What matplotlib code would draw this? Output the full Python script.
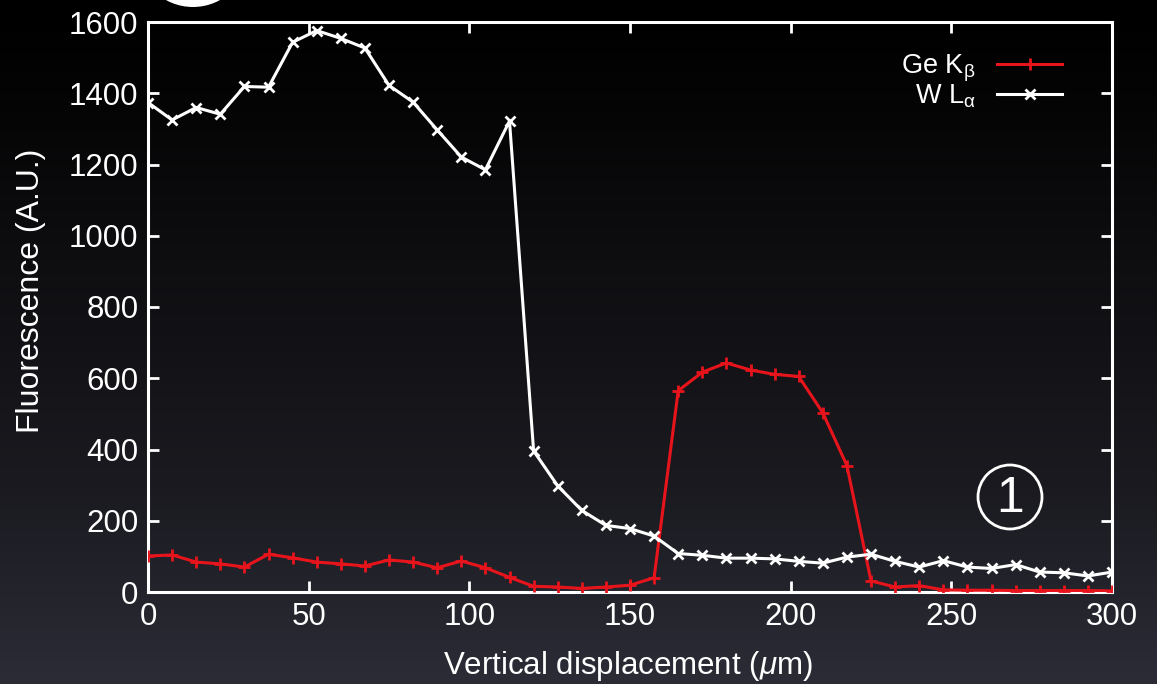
import numpy as np
import matplotlib
matplotlib.use("Agg")
import matplotlib.pyplot as plt
from matplotlib.patches import Ellipse
from matplotlib.colors import LinearSegmentedColormap

plt.rcParams["font.family"] = ["Liberation Sans", "DejaVu Sans"]
plt.rcParams["mathtext.fontset"] = "custom"
plt.rcParams["mathtext.rm"] = "Liberation Sans"
plt.rcParams["mathtext.it"] = "Liberation Sans:italic"

# vertical displacement (um), one scan point every 7.5 um
displacement = np.arange(0, 300.1, 7.5)

ge_kbeta = [101, 104, 84, 79, 70, 106, 96, 84, 79, 73,
            90, 84, 68, 87, 68, 41, 16, 14, 10, 14,
            19, 40, 565, 617, 643, 623, 611, 605, 503, 355,
            31, 14, 18, 6, 5, 5, 4, 4, 4, 4, 3]

w_lalpha = [1374, 1325, 1360, 1341, 1419, 1417, 1543, 1576, 1554, 1527,
            1422, 1375, 1297, 1221, 1185, 1322, 396, 298, 229, 187,
            178, 157, 108, 103, 95, 95, 93, 86, 81, 98,
            106, 86, 70, 88, 70, 66, 77, 56, 54, 45, 56]

fig = plt.figure(figsize=(11.57, 6.84), dpi=100)

# dark gradient backdrop
bg = fig.add_axes([0, 0, 1, 1], zorder=-10)
cmap = LinearSegmentedColormap.from_list(
    "bg", ["#000000", "#0f0f12", "#1a1a20", "#2c2c37"])
grad = np.linspace(0, 1, 256).reshape(-1, 1) ** 1.2
bg.imshow(grad, aspect="auto", cmap=cmap, extent=[0, 1, 0, 1], origin="upper")
bg.set_axis_off()

ax = fig.add_axes([148 / 1157, 92 / 684, 964 / 1157, 570 / 684])
ax.patch.set_alpha(0)

red = "#e8141c"
ax.plot(displacement, ge_kbeta, color=red, lw=2.2, marker="+", ms=9, mew=2,
        label=r"Ge K$_{\mathrm{β}}$", zorder=3)
ax.plot(displacement, w_lalpha, color="white", lw=2.2, marker="x", ms=7, mew=2,
        label=r"W L$_{\mathrm{α}}$", zorder=3)

ax.set_xlim(0, 300)
ax.set_ylim(0, 1600)
ax.set_xticks(np.arange(0, 301, 50))
ax.set_yticks(np.arange(0, 1601, 200))
for s in ax.spines.values():
    s.set_color("white")
    s.set_linewidth(2.2)
ax.tick_params(direction="in", length=8, width=2, colors="white",
               top=True, right=True, labelsize=22.5, pad=7)
ax.set_xlabel(r"Vertical displacement ($\mu$m)", color="white", fontsize=22.5)
ax.xaxis.set_label_coords(0.498, -0.1)
ax.set_ylabel("Fluorescence (A.U.)", color="white", fontsize=23)
ax.yaxis.set_label_coords(-0.106, 0.528)

leg = ax.legend(loc="upper right", frameon=False, markerfirst=False,
                fontsize=19.5, handlelength=2.4, labelspacing=-0.08,
                bbox_to_anchor=(0.968, 0.979), borderaxespad=0.3)
for t in leg.get_texts():
    t.set_color("white")

# circled annotation inside the plot
fig.add_artist(Ellipse((1010 / 1157, 1 - 497 / 684), 64 / 1157, 64 / 684,
                       transform=fig.transFigure, fill=False,
                       edgecolor="white", lw=2))
fig.text(1010 / 1157, 1 - 499 / 684, "1", color="white", fontsize=36,
         ha="center", va="center")

# partially visible marker at the top edge
fig.add_artist(Ellipse((193 / 1157, 1 + 49 / 684), 112 / 1157, 112 / 684,
                       transform=fig.transFigure, color="white", lw=0))

fig.savefig("out.png", dpi=100)
